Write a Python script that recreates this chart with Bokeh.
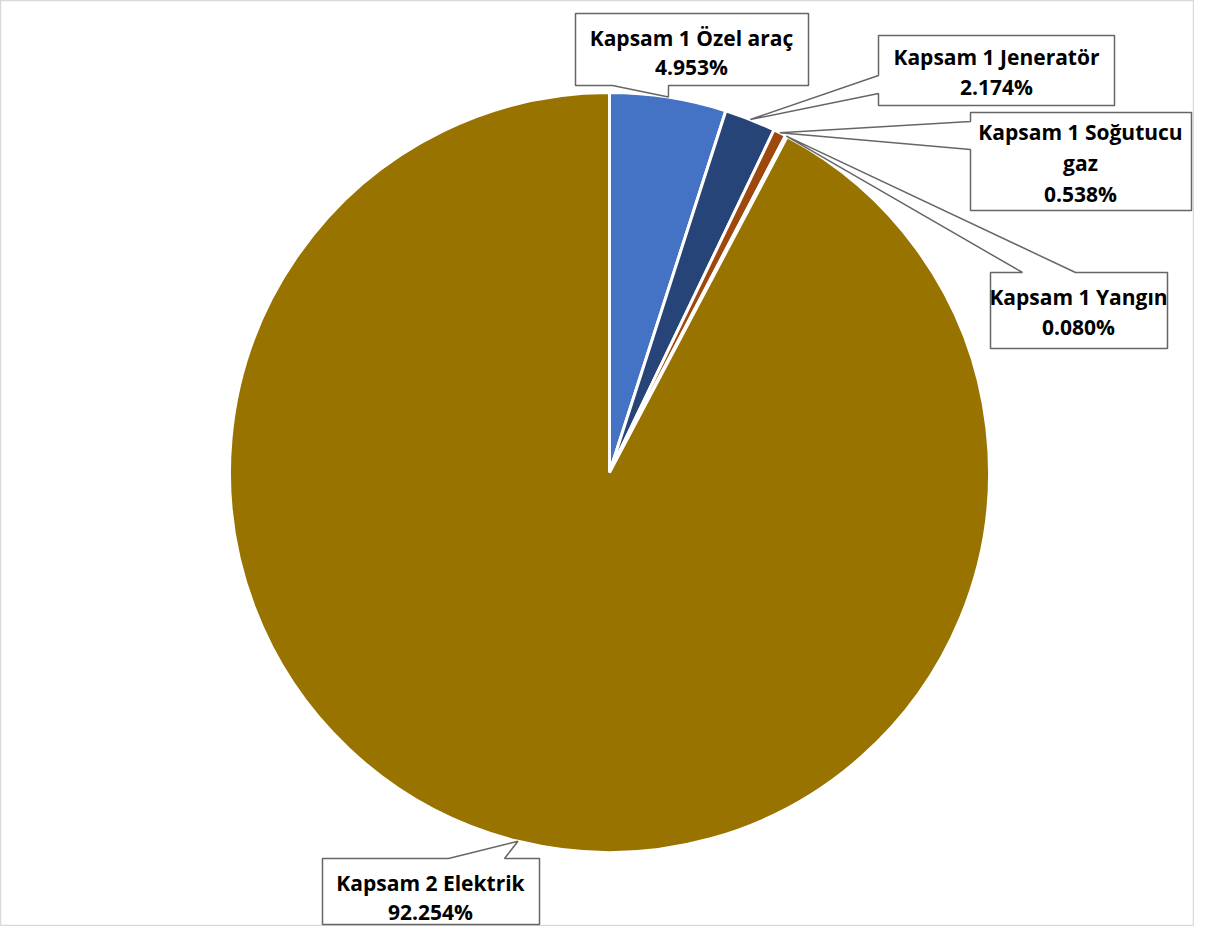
import math
from bokeh.plotting import figure
from bokeh.models import Range1d, ColumnDataSource
from bokeh.core.properties import value
from bokeh.embed import file_html
from bokeh.resources import INLINE

# ---- data ----
categories = ["Kapsam 1 Özel araç", "Kapsam 1 Jeneratör", "Kapsam 1 Soğutucu gaz",
              "Kapsam 1 Yangın", "Kapsam 2 Elektrik"]
label_lines = [["Kapsam 1 Özel araç"], ["Kapsam 1 Jeneratör"], ["Kapsam 1 Soğutucu", "gaz"],
               ["Kapsam 1 Yangın"], ["Kapsam 2 Elektrik"]]
values = [4.953, 2.174, 0.538, 0.080, 92.254]
colors = ["#4472C4", "#264478", "#9E480E", "#636363", "#997300"]

W, H = 1194, 926
p = figure(width=W, height=H, output_backend="svg", toolbar_location=None,
           x_range=Range1d(0, W), y_range=Range1d(0, H),
           min_border=0, outline_line_color="#D9D9D9", outline_line_width=1.5)
p.axis.visible = False
p.grid.visible = False
p.background_fill_color = "white"
p.border_fill_color = "white"

def Y(py):  # screen y -> data y
    return H - py

cx, cy, R = 609, Y(472), 380
total = sum(values)
starts, ends, mids = [], [], []
cum = 0.0
for v in values:
    a0 = math.pi / 2 - 2 * math.pi * cum / total
    cum += v
    a1 = math.pi / 2 - 2 * math.pi * cum / total
    starts.append(a0); ends.append(a1); mids.append((a0 + a1) / 2)

src = ColumnDataSource(dict(start=starts, end=ends, color=colors, cat=categories))
p.wedge(x=cx, y=cy, radius=R, start_angle="start", end_angle="end", direction="clock",
        fill_color="color", line_color="white", line_width=3, source=src)

# ---- callout label boxes (layout, screen coords) ----
# (left, top, right, bottom, side, base1, base2, text_center_x, first_line_y, line_gap)
boxes = [
    (575, 13, 808, 85, "bottom", 612, 668, 691, 37, 29),
    (878, 35, 1114, 105, "left", 75, 93, 996, 56, 30),
    (970, 112, 1191, 210, "left", 121, 149, 1080, 131, 31),
    (990, 272, 1167, 348, "top", 1022, 1075, 1078, 296, 30),
    (322, 858, 539, 924, "top", 448, 504, 430, 882, 29),
]

for i, (l, t, r, b, side, b1, b2, tx, ty, gap) in enumerate(boxes):
    tipx = cx + R * math.cos(mids[i])
    tipy = H - (cy + R * math.sin(mids[i]))
    pts = [(l, t)]
    if side == "top":
        pts += [(b1, t), (tipx, tipy), (b2, t)]
    pts += [(r, t), (r, b)]
    if side == "bottom":
        pts += [(b2, b), (tipx, tipy), (b1, b)]
    pts += [(l, b)]
    if side == "left":
        pts += [(l, b2), (tipx, tipy), (l, b1)]
    xs = [q[0] for q in pts]
    ys = [Y(q[1]) for q in pts]
    p.patch(xs, ys, fill_color="white", line_color="#666666", line_width=1.5)
    lines = label_lines[i] + [f"{values[i]:.3f}%"]
    for k, s in enumerate(lines):
        p.text(x=[tx], y=[Y(ty + k * gap)], text=[s], text_align="center",
               text_baseline="middle", text_font=value("Open Sans"),
               text_font_style="bold", text_font_size="21px", text_color="#000000")

open("out.html", "w").write(file_html(p, INLINE))
